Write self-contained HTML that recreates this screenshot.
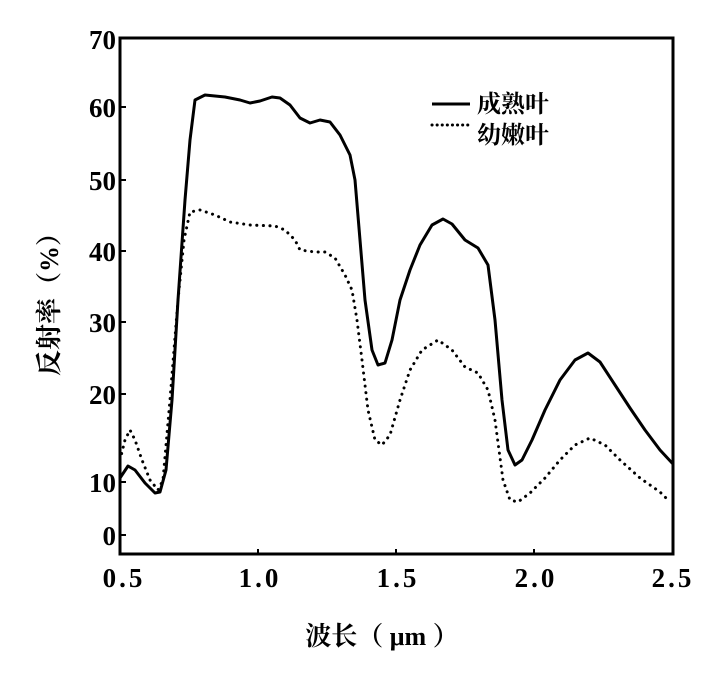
<!DOCTYPE html>
<html><head><meta charset="utf-8"><style>
body{margin:0;background:#fff;}
svg text{font-family:"Liberation Serif","Noto Serif CJK SC",serif;font-weight:bold;fill:#000;}
</style></head><body>
<svg width="715" height="670" viewBox="0 0 715 670" xmlns="http://www.w3.org/2000/svg">
<rect x="120" y="38" width="553" height="516" fill="none" stroke="#000" stroke-width="3"/>
<g stroke="#000" stroke-width="2">
<line x1="120" y1="107" x2="126" y2="107"/><line x1="120" y1="180" x2="126" y2="180"/>
<line x1="120" y1="251" x2="126" y2="251"/><line x1="120" y1="322" x2="126" y2="322"/>
<line x1="120" y1="394" x2="126" y2="394"/><line x1="120" y1="482" x2="126" y2="482"/>
<line x1="120" y1="535" x2="126" y2="535"/>
<line x1="258" y1="554" x2="258" y2="549"/><line x1="396" y1="554" x2="396" y2="549"/><line x1="534" y1="554" x2="534" y2="549"/>
</g>
<g font-size="27" text-anchor="end">
<text x="116" y="49">70</text><text x="116" y="117">60</text><text x="116" y="190">50</text>
<text x="116" y="261">40</text><text x="116" y="332">30</text><text x="116" y="404">20</text>
<text x="116" y="492">10</text><text x="116" y="545">0</text>
</g>
<g font-size="27" text-anchor="middle" letter-spacing="3">
<text x="124" y="587">0.5</text><text x="260" y="587">1.0</text><text x="398" y="587">1.5</text>
<text x="536" y="587">2.0</text><text x="673" y="587">2.5</text>
</g>
<text x="382" y="645" font-size="26" text-anchor="middle" font-family="Noto Sans CJK SC,sans-serif">波长（ μm ）</text>
<text transform="translate(58,298) rotate(-90)" font-size="26" text-anchor="middle" font-family="Noto Sans CJK SC,sans-serif">反射率（%）</text>
<polyline fill="none" stroke="#000" stroke-width="3" stroke-linejoin="round" points="120,478 128,466 135,470 145,483 155,493 160,492 166,470 172,400 178,300 185,200 190,140 195,100 205,95 225,97 240,100 250,103 260,101 272,97 280,98 290,105 300,118 310,123 320,120 330,122 340,135 350,155 355,180 360,240 365,300 372,350 378,365 385,363 392,340 400,300 410,270 420,245 432,225 443,219 452,224 465,240 478,248 488,265 495,320 502,400 508,450 515,465 522,460 532,440 545,410 560,380 575,360 588,353 600,362 615,385 630,408 645,430 660,450 673,464"/>
<polyline fill="none" stroke="#000" stroke-width="3" stroke-dasharray="0.1 6.5" stroke-linecap="round" points="120,460 125,440 130,430 135,440 142,460 150,480 158,490 163,480 170,400 178,300 184,240 190,212 200,210 215,215 230,222 250,225 275,226 285,230 295,240 300,250 315,252 325,252 335,258 345,275 352,290 357,320 362,360 368,410 375,440 382,445 390,435 400,400 410,370 422,350 438,340 452,350 465,367 478,373 488,390 495,420 503,480 510,500 518,502 530,493 545,478 560,460 575,445 590,438 605,445 620,460 640,478 660,492 668,500"/>
<line x1="432" y1="104" x2="470" y2="104" stroke="#000" stroke-width="3"/>
<line x1="432" y1="125" x2="470" y2="125" stroke="#000" stroke-width="3" stroke-dasharray="0.1 5" stroke-linecap="round"/>
<text x="477" y="112" font-size="24" font-family="Noto Sans CJK SC,sans-serif">成熟叶</text>
<text x="477" y="143" font-size="24" font-family="Noto Sans CJK SC,sans-serif">幼嫩叶</text>
</svg>
</body></html>
